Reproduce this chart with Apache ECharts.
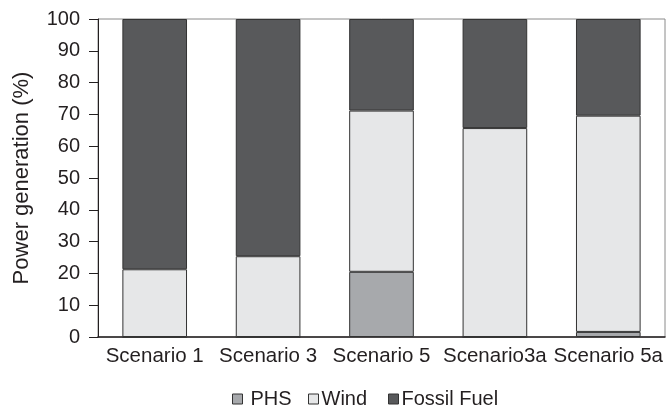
<!DOCTYPE html>
<html>
<head>
<meta charset="utf-8">
<script src="https://cdn.jsdelivr.net/npm/echarts@6/dist/echarts.min.js"></script>
<style>html,body{margin:0;padding:0;background:#fff}#c{width:670px;height:409px}</style>
</head>
<body>
<div id="c"></div>
<script>
const categories = ['Scenario 1', 'Scenario 3', 'Scenario 5', 'Scenario3a', 'Scenario 5a'];
const seriesNames = ['PHS', 'Wind', 'Fossil Fuel'];
const phs = [0, 0, 20.5, 0, 1.6];
const wind = [21.3, 25.4, 50.7, 65.7, 68.0];
const fossil = [78.7, 74.6, 28.8, 34.3, 30.4];
const yTicks = [0, 10, 20, 30, 40, 50, 60, 70, 80, 90, 100];

const FONT = 'Liberation Sans, Arial, sans-serif';
const colors = ['#a7a9ac', '#e6e7e8', '#58595b'];
const legendLeft = [232, 308, 388];
const legendPad = [3, -2, -2];
const chart = echarts.init(document.getElementById('c'));
const barBorder = { borderColor: '#333333', borderWidth: 1 };
const legends = seriesNames.map((n, i) => ({
  left: legendLeft[i], top: 389, padding: 0,
  itemWidth: 10, itemHeight: 10,
  textStyle: { fontFamily: FONT, fontSize: 20, color: '#231f20', padding: [0, 0, 0, legendPad[i]] },
  data: [{ name: n, icon: 'rect', itemStyle: { color: colors[i], borderColor: '#333', borderWidth: 1 } }]
}));
const dataSets = [phs, wind, fossil];
chart.setOption({
  animation: false,
  textStyle: { fontFamily: FONT },
  grid: { left: 98, right: 5, top: 19, bottom: 72, show: true, borderColor: '#8a8a8a', borderWidth: 1 },
  legend: legends,
  xAxis: {
    type: 'category',
    data: categories,
    axisLine: { lineStyle: { color: '#231f20', width: 1.5 } },
    axisTick: { show: false },
    axisLabel: { fontFamily: FONT, fontSize: 20.5, color: '#231f20', margin: 9, interval: 0 }
  },
  yAxis: {
    type: 'value',
    min: yTicks[0], max: yTicks[yTicks.length - 1], interval: 10,
    name: 'Power generation (%)',
    nameLocation: 'middle',
    nameGap: 65,
    nameTextStyle: { fontFamily: FONT, fontSize: 22, color: '#231f20' },
    axisLine: { show: true, lineStyle: { color: '#231f20', width: 1 } },
    axisTick: { show: true, length: 9, lineStyle: { color: '#231f20' } },
    splitLine: { show: false },
    axisLabel: { fontFamily: FONT, fontSize: 20, color: '#231f20', margin: 18 }
  },
  series: seriesNames.map((n, i) => ({
    name: n, type: 'bar', stack: 's', barWidth: '57%', data: dataSets[i],
    itemStyle: Object.assign({ color: colors[i] }, barBorder)
  }))
});
</script>
</body>
</html>
